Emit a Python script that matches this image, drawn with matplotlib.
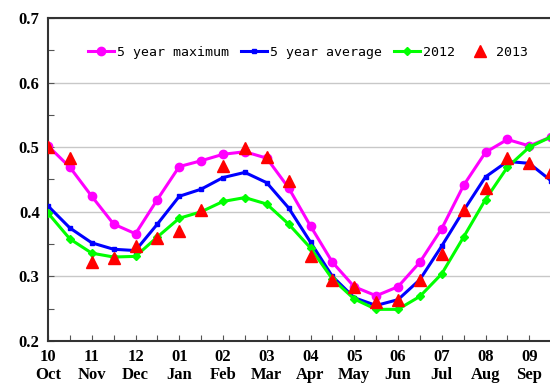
import numpy as np
import matplotlib
matplotlib.use("Agg")
import matplotlib.pyplot as plt
from matplotlib.ticker import MultipleLocator

# half-month steps, October to September
month_nums = ["10", "11", "12", "01", "02", "03", "04", "05", "06", "07", "08", "09"]
month_names = ["Oct", "Nov", "Dec", "Jan", "Feb", "Mar", "Apr", "May", "Jun", "Jul", "Aug", "Sep"]

max5 = [0.502, 0.469, 0.424, 0.381, 0.366, 0.419, 0.470, 0.479, 0.489, 0.493, 0.483, 0.437,
        0.378, 0.322, 0.284, 0.270, 0.284, 0.322, 0.374, 0.441, 0.492, 0.512, 0.502, 0.516]
avg5 = [0.409, 0.375, 0.352, 0.342, 0.340, 0.381, 0.424, 0.435, 0.453, 0.461, 0.445, 0.406,
        0.353, 0.300, 0.267, 0.255, 0.264, 0.295, 0.347, 0.402, 0.454, 0.478, 0.475, 0.448]
y2012 = [0.398, 0.358, 0.336, 0.330, 0.331, 0.361, 0.390, 0.400, 0.416, 0.422, 0.412, 0.381,
         0.344, 0.296, 0.265, 0.249, 0.249, 0.269, 0.304, 0.361, 0.419, 0.469, 0.500, 0.516]
y2013 = [0.501, 0.483, 0.322, 0.329, 0.347, 0.359, 0.371, 0.403, 0.471, 0.498, 0.485, 0.448,
         0.332, 0.295, 0.284, 0.261, 0.264, 0.295, 0.334, 0.403, 0.437, 0.483, 0.475, 0.462]

x = np.arange(len(max5))

fig = plt.figure(figsize=(5.5, 3.85), dpi=100)
# axes run past the right edge of the image, as in the original crop
ax = fig.add_axes([48 / 550, 44 / 385, 525 / 550, 323 / 385])

ax.plot(x, max5, color="#ff00ff", lw=2.2, marker="o", ms=6, label="5 year maximum", zorder=3)
ax.plot(x, avg5, color="#0000ff", lw=2.2, marker="s", ms=3.5, label="5 year average", zorder=4)
ax.plot(x, y2012, color="#00ff00", lw=2.2, marker="D", ms=4.5, label="2012", zorder=5)
ax.plot(x, y2013, color="#ff0000", lw=0, marker="^", ms=8, label="2013", zorder=6)

ax.set_xlim(0, 24)
ax.set_ylim(0.2, 0.7)
ax.set_xticks(np.arange(0, 24, 2))
ax.set_xticklabels([n + "\n" + m for n, m in zip(month_nums, month_names)])
ax.xaxis.set_minor_locator(MultipleLocator(1))
ax.yaxis.set_major_locator(MultipleLocator(0.1))
ax.yaxis.set_minor_locator(MultipleLocator(0.05))
ax.set_yticklabels(["%.1f" % v for v in ax.get_yticks()])

for lab in ax.get_xticklabels() + ax.get_yticklabels():
    lab.set_fontfamily("Liberation Serif")
    lab.set_fontweight("bold")
    lab.set_fontsize(12)
    lab.set_linespacing(1.15)

ax.tick_params(axis="both", which="both", direction="in", length=4, width=0.8, color="#555555")
ax.tick_params(axis="y", which="major", pad=6)
ax.tick_params(axis="x", which="major", pad=6)
ax.grid(axis="y", which="major", color="#c8c8c8", lw=1)
for sp in ax.spines.values():
    sp.set_color("#333333")
    sp.set_linewidth(1.5)

leg = ax.legend(loc="upper left", bbox_to_anchor=(0.066, 0.93), ncol=4, frameon=False,
                borderaxespad=0,
                prop={"family": "DejaVu Sans Mono", "size": 9.5},
                handlelength=2.0, handletextpad=0.2, columnspacing=0.9)

fig.savefig("out.png", dpi=100)
